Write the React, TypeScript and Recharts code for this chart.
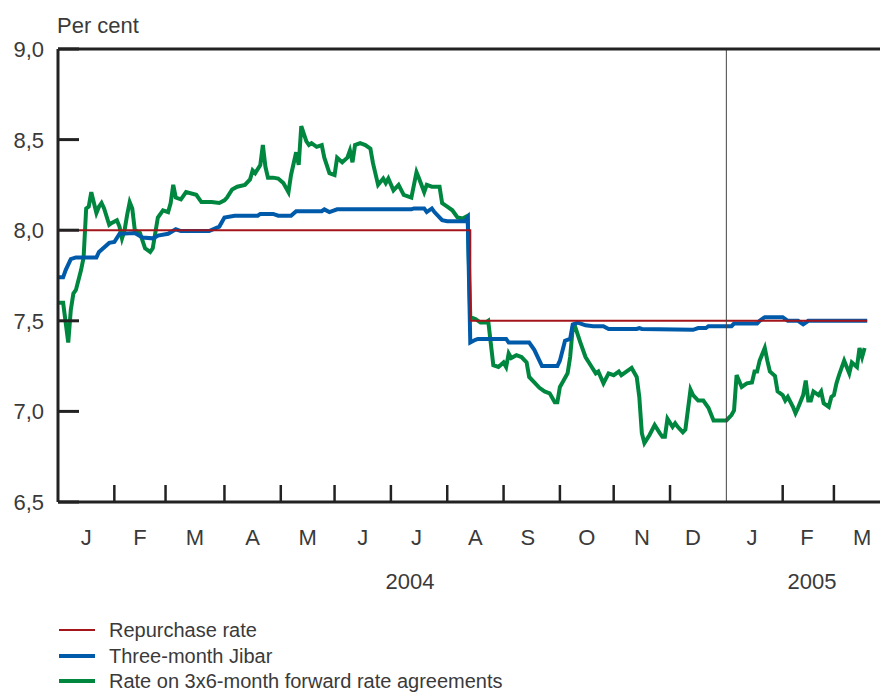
import React from 'react'
import { LineChart, Line, XAxis, YAxis, ReferenceLine } from 'recharts'

// x values are trading days counted from 1 January 2004

const repoDays = [0, 161, 161, 316]
const repoRates = [8.0, 8.0, 7.5, 7.5]

const jibarDays = [
  0, 2, 3, 5, 7, 15, 16, 20, 22, 24, 30, 33, 37, 39, 43, 46, 48, 59, 63, 65,
  69, 78, 79, 84, 86, 91, 93, 103, 104, 106, 109, 138, 139, 143, 144, 146, 147, 150, 152, 159,
  160, 161, 163, 164, 175, 176, 184, 186, 188, 189, 195, 196, 198, 200, 201, 203, 206, 209, 213, 215,
  226, 227, 228, 248, 250, 253, 254, 263, 264, 273, 274, 276, 283, 285, 289, 291, 293, 316,
]
const jibarRates = [
  7.74, 7.74, 7.78, 7.84, 7.85, 7.85, 7.88, 7.93, 7.935, 7.98, 7.985, 7.96, 7.955, 7.97, 7.98, 8.005, 7.995, 7.995, 8.02, 8.07,
  8.08, 8.08, 8.09, 8.09, 8.08, 8.08, 8.105, 8.105, 8.115, 8.1, 8.115, 8.115, 8.12, 8.12, 8.1, 8.12, 8.1, 8.055, 8.05, 8.05,
  8.07, 7.38, 7.395, 7.4, 7.4, 7.38, 7.38, 7.34, 7.28, 7.25, 7.25, 7.28, 7.39, 7.4, 7.48, 7.49, 7.475, 7.47, 7.47, 7.455,
  7.455, 7.46, 7.455, 7.45, 7.46, 7.46, 7.47, 7.47, 7.485, 7.485, 7.5, 7.52, 7.52, 7.5, 7.5, 7.48, 7.5, 7.5,
]

const fraDays = [
  0, 2, 4, 5, 6, 7, 9, 10, 11, 12, 13, 15, 16, 17, 18, 20, 21, 23, 24, 25,
  26, 27, 28, 29, 30, 32, 34, 36, 37, 39, 41, 43, 44, 45, 46, 48, 50, 54, 56, 60,
  63, 65, 66, 68, 70, 73, 75, 76, 77, 79, 80, 81, 82, 84, 86, 88, 90, 91, 93, 94,
  95, 97, 98, 99, 101, 103, 104, 106, 108, 109, 111, 113, 114, 115, 116, 118, 120, 122, 123, 125,
  127, 128, 129, 131, 133, 135, 138, 139, 140, 141, 143, 144, 146, 149, 150, 152, 154, 156, 158, 160,
  161, 163, 165, 167, 168, 170, 172, 174, 175, 176, 177, 179, 181, 183, 184, 186, 188, 190, 192, 194,
  195, 196, 197, 199, 200, 201, 202, 204, 206, 208, 210, 211, 213, 215, 217, 219, 220, 224, 226, 227,
  228, 229, 231, 233, 235, 236, 237, 238, 240, 241, 242, 244, 245, 247, 248, 250, 252, 254, 256, 261,
  263, 264, 265, 267, 268, 269, 271, 272, 273, 274, 276, 277, 278, 280, 281, 283, 284, 285, 287, 288,
  289, 291, 292, 293, 294, 295, 297, 298, 299, 301, 302, 303, 304, 305, 307, 308, 309, 310, 312, 313,
  314, 315,
]
const fraRates = [
  7.6, 7.6, 7.38, 7.56, 7.65, 7.67, 7.78, 7.85, 8.12, 8.13, 8.21, 8.095, 8.13, 8.15, 8.12, 8.03, 8.04, 8.055, 8.02, 7.955,
  8.0, 8.085, 8.155, 8.12, 8.0, 7.985, 7.9, 7.88, 7.9, 8.07, 8.11, 8.1, 8.15, 8.25, 8.18, 8.17, 8.21, 8.195, 8.155, 8.155,
  8.15, 8.165, 8.18, 8.225, 8.24, 8.25, 8.28, 8.33, 8.315, 8.36, 8.47, 8.35, 8.29, 8.29, 8.285, 8.26, 8.21, 8.305, 8.43, 8.36,
  8.575, 8.49, 8.47, 8.48, 8.46, 8.47, 8.4, 8.315, 8.305, 8.4, 8.375, 8.4, 8.44, 8.375, 8.47, 8.48, 8.47, 8.45, 8.37, 8.25,
  8.285, 8.26, 8.285, 8.22, 8.25, 8.195, 8.18, 8.25, 8.32, 8.285, 8.21, 8.25, 8.24, 8.24, 8.15, 8.13, 8.11, 8.07, 8.065, 8.08,
  7.52, 7.51, 7.49, 7.49, 7.5, 7.255, 7.245, 7.27, 7.245, 7.32, 7.295, 7.31, 7.3, 7.27, 7.19, 7.16, 7.13, 7.11, 7.1, 7.05,
  7.05, 7.135, 7.16, 7.21, 7.3, 7.46, 7.465, 7.38, 7.3, 7.255, 7.21, 7.22, 7.155, 7.21, 7.2, 7.22, 7.2, 7.24, 7.19, 7.08,
  6.88, 6.825, 6.87, 6.925, 6.88, 6.86, 6.86, 6.96, 6.915, 6.935, 6.915, 6.885, 6.9, 7.12, 7.09, 7.06, 7.06, 7.02, 6.95, 6.95,
  6.98, 7.005, 7.2, 7.135, 7.145, 7.155, 7.16, 7.22, 7.22, 7.28, 7.35, 7.28, 7.22, 7.195, 7.11, 7.09, 7.06, 7.08, 7.025, 6.99,
  7.02, 7.09, 7.17, 7.06, 7.06, 7.11, 7.09, 7.11, 7.045, 7.025, 7.08, 7.09, 7.155, 7.2, 7.28, 7.245, 7.21, 7.27, 7.245, 7.35,
  7.3, 7.35,
]

const monthStarts = [22, 42, 65, 87, 108, 130, 152, 174, 196, 217, 239, 283, 303]
const monthMids = [11, 32, 53.5, 76, 97.5, 119, 140, 163, 183.5, 206.5, 228, 248, 271, 292.5, 314]
const monthLetters = ['J', 'F', 'M', 'A', 'M', 'J', 'J', 'A', 'S', 'O', 'N', 'D', 'J', 'F', 'M']
const yearBreak = 261
const yTicks = [6.5, 7, 7.5, 8, 8.5, 9]

const toPoints = (days: number[], rates: number[]) => days.map((d, i) => ({ day: d, rate: rates[i] }))
const repoData = toPoints(repoDays, repoRates)
const jibarData = toPoints(jibarDays, jibarRates)
const fraData = toPoints(fraDays, fraRates)

const FONT = '"Liberation Sans", Arial, sans-serif'
const TEXT = '#3a3a3a'
const AXIS = '#222'
const RED = '#a3151b'
const BLUE = '#005aaa'
const GREEN = '#00873f'

const xTickValues = [...monthStarts, ...monthMids].sort((a, b) => a - b)

function XTick(props: any) {
  const { x, y, payload } = props
  const v = payload.value
  if (monthStarts.includes(v)) {
    return <line x1={x} x2={x} y1={y} y2={y - 17} stroke={AXIS} strokeWidth={2.5} />
  }
  const i = monthMids.indexOf(v)
  return (
    <text x={x} y={y + 43} textAnchor="middle" fontSize={22} fill={TEXT} fontFamily={FONT}>
      {monthLetters[i]}
    </text>
  )
}

function YTick(props: any) {
  const { x, y, payload } = props
  return (
    <g>
      <line x1={x} x2={x + 21} y1={y} y2={y} stroke={AXIS} strokeWidth={3} />
      <text x={x - 14} y={y + 8} textAnchor="end" fontSize={22} fill={TEXT} fontFamily={FONT}>
        {payload.value.toFixed(1).replace('.', ',')}
      </text>
    </g>
  )
}

const legendItems = [
  { label: 'Repurchase rate', color: RED, width: 2 },
  { label: 'Three-month Jibar', color: BLUE, width: 4 },
  { label: 'Rate on 3x6-month forward rate agreements', color: GREEN, width: 4 },
]

export default function App() {
  return (
    <div style={{ position: 'absolute', left: 0, top: 0, width: 880, height: 693, fontFamily: FONT, color: TEXT }}>
      <div style={{ position: 'absolute', left: 57, top: 15, fontSize: 22, lineHeight: '22px' }}>Per cent</div>
      <LineChart width={880} height={562} margin={{ top: 49, right: 0, bottom: 0, left: 0 }}>
        <Line data={fraData} dataKey="rate" stroke={GREEN} strokeWidth={4} dot={false} isAnimationActive={false} />
        <Line data={jibarData} dataKey="rate" stroke={BLUE} strokeWidth={4} dot={false} isAnimationActive={false} />
        <Line data={repoData} dataKey="rate" stroke={RED} strokeWidth={2} dot={false} isAnimationActive={false} />
        <ReferenceLine x={yearBreak} stroke="#444" strokeWidth={1} />
        <ReferenceLine y={9} stroke={AXIS} strokeWidth={3} />
        <XAxis
          dataKey="day"
          type="number"
          domain={[0, 321]}
          allowDataOverflow
          ticks={xTickValues}
          interval={0}
          height={60}
          tickSize={0}
          tickMargin={0}
          tickLine={false}
          axisLine={{ stroke: AXIS, strokeWidth: 3 }}
          tick={<XTick />}
        />
        <YAxis
          type="number"
          domain={[6.5, 9]}
          allowDataOverflow
          ticks={yTicks}
          interval={0}
          width={58}
          tickSize={0}
          tickMargin={0}
          tickLine={false}
          axisLine={{ stroke: AXIS, strokeWidth: 3 }}
          tick={<YTick />}
        />
      </LineChart>
      <div style={{ position: 'absolute', left: 360, width: 100, top: 571, textAlign: 'center', fontSize: 22, lineHeight: '22px' }}>2004</div>
      <div style={{ position: 'absolute', left: 762, width: 100, top: 571, textAlign: 'center', fontSize: 22, lineHeight: '22px' }}>2005</div>
      {legendItems.map((item, i) => (
        <React.Fragment key={item.label}>
          <div style={{ position: 'absolute', left: 59, width: 36, top: 630 + i * 25.5 - item.width / 2, height: item.width, background: item.color }} />
          <div style={{ position: 'absolute', left: 109, top: 620 + i * 25.5, fontSize: 20, lineHeight: '20px', whiteSpace: 'nowrap' }}>{item.label}</div>
        </React.Fragment>
      ))}
    </div>
  )
}
